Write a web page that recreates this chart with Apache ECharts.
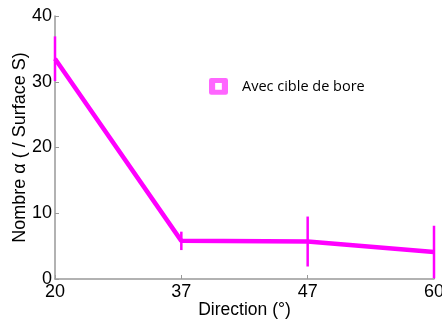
<!DOCTYPE html>
<html><head><meta charset="utf-8">
<script src="https://cdn.jsdelivr.net/npm/echarts@6/dist/echarts.min.js"></script>
<style>html,body{margin:0;padding:0;background:#fff}#c{width:442px;height:320px}</style>
</head><body><div id="c"></div>
<script>
var categories = ['20', '37', '47', '60'];
var values = [33.5, 5.8, 5.7, 4.1];
var errors = [3.4, 1.4, 3.8, 4.0];
var yTicks = [0, 10, 20, 30, 40];

var chart = echarts.init(document.getElementById('c'));
var errData = categories.map(function (c, i) { return [i, values[i] - errors[i], values[i] + errors[i]]; });
chart.setOption({
  animation: false,
  grid: { left: 55, right: 8, top: 16, bottom: 41, outerBoundsMode: 'none', containLabel: false },
  legend: {
    left: 204, top: 73, itemWidth: 19, itemHeight: 17, itemGap: 10,
    textStyle: { fontFamily: 'Open Sans', fontSize: 14.5, color: '#000', padding: [0, 0, 0, 9] },
    data: [{ name: 'Avec cible de bore',
      icon: 'path://M2,0H15Q17,0 17,2V13Q17,15 15,15H2Q0,15 0,13V2Q0,0 2,0Z M5.5,4.5V10.5H11.5V4.5Z',
      itemStyle: { color: '#ff66ff', borderWidth: 0 } }]
  },
  xAxis: {
    type: 'category', data: categories, boundaryGap: false,
    name: 'Direction (°)', nameLocation: 'middle', nameGap: 22, nameMoveOverlap: false,
    nameTextStyle: { fontFamily: 'Liberation Sans', fontSize: 17.5, color: '#000' },
    axisLine: { lineStyle: { color: '#999', width: 1.5 } },
    axisTick: { inside: true, length: 4, lineStyle: { color: '#999' } },
    axisLabel: { fontFamily: 'Liberation Sans', fontSize: 18, color: '#000', margin: 4 },
    splitLine: { show: false }
  },
  yAxis: {
    type: 'value', min: 0, max: 40, interval: 10,
    name: 'Nombre α ( / Surface S)', nameLocation: 'middle', nameGap: 26, nameMoveOverlap: false,
    nameTextStyle: { fontFamily: 'Liberation Sans', fontSize: 18, color: '#000' },
    axisLine: { show: true, lineStyle: { color: '#999', width: 1.5 } },
    axisTick: { show: true, inside: true, length: 4, lineStyle: { color: '#999' } },
    axisLabel: { fontFamily: 'Liberation Sans', fontSize: 18, color: '#000', margin: 3,
      formatter: function (v) { return yTicks.indexOf(v) >= 0 ? String(v) : ''; } },
    splitLine: { show: false }
  },
  series: [{
    name: 'Avec cible de bore', type: 'line', data: values,
    symbol: 'none', lineStyle: { color: '#ff00ff', width: 4.5 }, itemStyle: { color: '#ff00ff' }, z: 3
  }, {
    type: 'custom', data: errData, z: 4,
    renderItem: function (params, api) {
      var lo = api.coord([api.value(0), api.value(1)]);
      var hi = api.coord([api.value(0), api.value(2)]);
      return { type: 'line', shape: { x1: lo[0], y1: lo[1], x2: hi[0], y2: hi[1] },
        style: { stroke: '#ff00ff', lineWidth: 2.5 } };
    }
  }]
});
</script></body></html>
